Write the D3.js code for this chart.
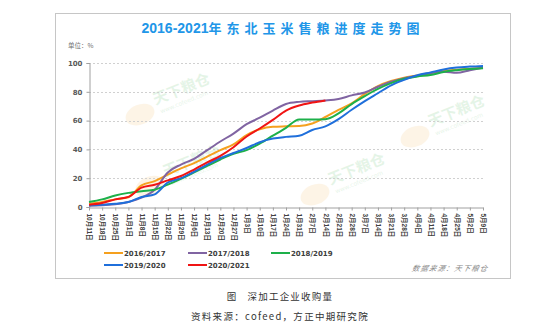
<!DOCTYPE html>
<html><head><meta charset="utf-8">
<script src="https://cdn.jsdelivr.net/npm/d3@7"></script>
<style>html,body{margin:0;padding:0;background:#fff;}svg{display:block;}</style>
</head><body>
<svg id="c" width="550" height="324"></svg>
<script>
const categories = ["10月11日","10月18日","10月25日","11月1日","11月8日","11月15日","11月22日","11月29日","12月6日","12月13日","12月20日","12月27日","1月3日","1月10日","1月17日","1月24日","1月31日","2月7日","2月14日","2月21日","2月28日","3月7日","3月14日","3月21日","3月28日","4月4日","4月11日","4月18日","4月25日","5月2日","5月9日"];
const yTicks = [0,20,40,60,80,100];
const s2016 = [2.3,3.5,5.3,6.8,15,18,22.5,26.8,30.5,35,39.5,43.5,50,54,55.7,56,56.2,58,62.5,67.5,72,78.5,84,87.5,89.8,91.3,93,94.5,95.3,96,96.7];
const s2017 = [1,1.2,1.9,3.5,6.5,12,24,29.5,33.5,39.5,45.5,51,57.5,62,67,71.5,73,73.5,74,75,77.5,79.5,83.5,87,89.5,91,92.8,94,93.2,95,96.8];
const s2018 = [3.5,5.3,8,9.8,11,12,15.5,19.5,24,28.5,33,37,39.5,44,49.5,55,60.8,60.8,61,65,71.5,77,82,86,89,90.7,91.6,93.8,95,95.8,96.3];
const s2019 = [1,1.6,2.3,3.5,7,8.8,17,20,24.5,29.5,34,37.5,41,45,47.5,48.7,49.5,53.5,56,61,67.5,73.5,79,84.5,88.3,91.5,93.5,95.5,96.8,97.5,98];
const s2020 = [1.6,2.8,5.3,7,13.5,15.5,18.5,21.5,26,31,35.5,41.5,49,54.5,60.5,67,70.5,72.5,74];
const seriesNames = ["2016/2017","2017/2018","2018/2019","2019/2020","2020/2021"];
const seriesColors = ["#F5A01E","#8064A2","#1DB04A","#1F6FDB","#F01414"];
const seriesData = [s2016,s2017,s2018,s2019,s2020];

const svg = d3.select("#c");
svg.append("rect").attr("x",55.5).attr("y",13.5).attr("width",455).attr("height",265)
  .attr("fill","none").attr("stroke","#C6C6C6").attr("stroke-width",1);

const x = d3.scalePoint().domain(categories).range([89,483]);
const y = d3.scaleLinear().domain([0,100]).range([207,63]);

// faint watermarks
const wm = [[160,100],[170,172],[335,180],[435,122]];
wm.forEach(([wx,wy])=>{
  const g = svg.append("g").attr("transform",`translate(${wx},${wy}) rotate(-22)`).attr("opacity",0.13);
  g.append("ellipse").attr("cx",-24).attr("cy",6).attr("rx",15).attr("ry",10).attr("fill","#F2B24A");
  g.append("text").attr("x",-6).attr("y",3).attr("font-family","Noto Sans CJK SC").attr("font-weight","bold")
    .attr("font-size",15).attr("fill","#3BAF4A").text("天下粮仓");
  g.append("text").attr("x",-4).attr("y",13).attr("font-family","DejaVu Sans").attr("font-size",6).attr("fill","#3BAF4A").text("www.cofeed.com");
});

svg.append("g").selectAll("line").data(yTicks.filter(d=>d>0)).join("line")
  .attr("x1",89).attr("x2",484).attr("y1",d=>Math.round(y(d))+0.5).attr("y2",d=>Math.round(y(d))+0.5)
  .attr("stroke","#D0D0D0").attr("stroke-dasharray","2,2").attr("stroke-width",1);

const yAxis = d3.axisLeft(y).tickValues(yTicks).tickSize(3).tickPadding(4);
const gy = svg.append("g").attr("transform","translate(89.5,0)").call(yAxis);
gy.select(".domain").attr("stroke","#A0A0A0");
gy.selectAll(".tick line").attr("stroke","#A0A0A0");
gy.selectAll("text").attr("font-family","DejaVu Sans").attr("font-weight","bold").attr("font-size",7).attr("fill","#595959");

const xAxis = d3.axisBottom(x).tickSize(3).tickSizeOuter(0).tickPadding(3);
const gx = svg.append("g").attr("transform","translate(0,207.5)").call(xAxis);
gx.select(".domain").attr("stroke","#A0A0A0");
gx.selectAll(".tick line").attr("stroke","#A0A0A0");
gx.selectAll(".tick text").attr("font-family","Liberation Sans, Noto Sans CJK SC").attr("font-size",6.5).attr("font-weight","bold")
  .attr("fill","#404040").attr("text-anchor","start").attr("dy",null).attr("y",null)
  .attr("transform","translate(-2.3,6) rotate(90)");

const line = d3.line().x((d,i)=>x(categories[i])).y(d=>y(d)).curve(d3.curveMonotoneX);
seriesData.forEach((s,k)=>{
  svg.append("path").datum(s).attr("d",line).attr("fill","none")
    .attr("stroke",seriesColors[k]).attr("stroke-width",2).attr("stroke-linejoin","round");
});

const t = svg.append("text").attr("x",283).attr("y",33).attr("text-anchor","middle").attr("fill","#2196E8").attr("font-weight","bold");
t.append("tspan").attr("font-family","Liberation Sans").attr("font-size",14).text("2016-2021");
t.append("tspan").attr("font-family","Noto Sans CJK SC").attr("font-size",13).attr("letter-spacing",5).text("年东北玉米售粮进度走势图");

svg.append("text").attr("x",68).attr("y",48).attr("font-family","Noto Sans CJK SC").attr("font-size",6.5).attr("fill","#707070").text("单位：%");

const legPos = [[104,253],[188,253],[271,253],[104,265],[188,265]];
seriesNames.forEach((n,k)=>{
  const [lx,ly] = legPos[k];
  svg.append("line").attr("x1",lx).attr("x2",lx+19).attr("y1",ly).attr("y2",ly).attr("stroke",seriesColors[k]).attr("stroke-width",2);
  svg.append("text").attr("x",lx+20).attr("y",ly+2.5).attr("font-family","DejaVu Sans").attr("font-weight","bold")
    .attr("font-size",7).attr("fill","#404040").text(n);
});

svg.append("text").attr("x",412).attr("y",271).attr("font-family","Noto Sans CJK SC").attr("font-style","italic")
  .attr("font-size",7.5).attr("letter-spacing",1).attr("fill","#8A8A8A").attr("transform","skewX(-12) translate(57,0)").text("数据来源：天下粮仓");

svg.append("text").attr("x",280).attr("y",300).attr("text-anchor","middle").attr("font-family","Noto Sans CJK SC")
  .attr("font-size",9.5).attr("letter-spacing",1.2).attr("fill","#333").attr("xml:space","preserve").text("图   深加工企业收购量");
svg.append("text").attr("x",280).attr("y",320).attr("text-anchor","middle").attr("font-family","Noto Sans CJK SC")
  .attr("font-size",9.5).attr("letter-spacing",1.3).attr("fill","#333").text("资料来源：cofeed，方正中期研究院");
</script>
</body></html>
